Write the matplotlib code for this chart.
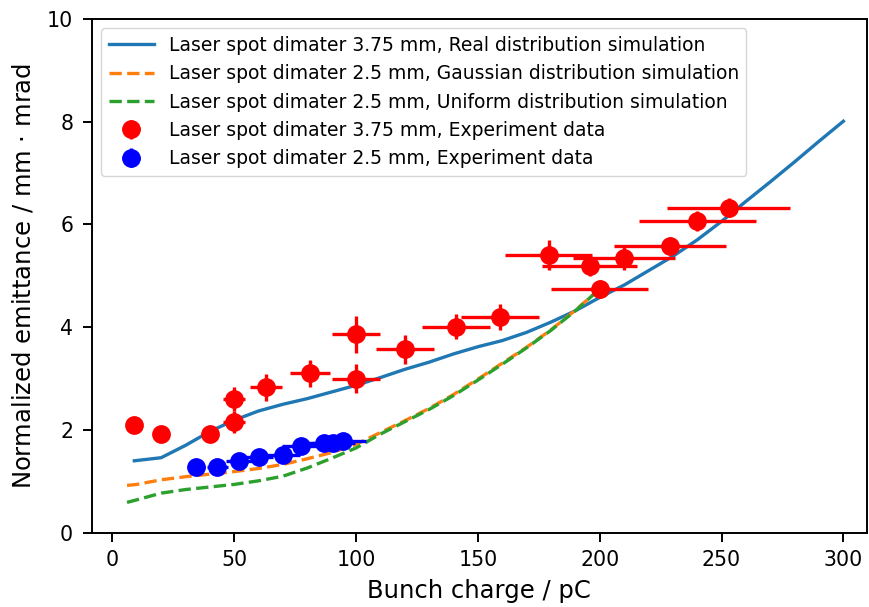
import matplotlib
matplotlib.use('Agg')
import matplotlib.pyplot as plt

# simulation curves
real_x = [9, 20, 30, 40, 50, 60, 70, 80, 90, 100, 110, 120, 130, 140, 150, 160, 170, 180, 190, 200,
          210, 220, 230, 240, 250, 260, 270, 280, 290, 300]
real_y = [1.40, 1.46, 1.70, 1.97, 2.19, 2.37, 2.50, 2.61, 2.74, 2.87, 3.02, 3.18, 3.32, 3.48, 3.62,
          3.74, 3.90, 4.10, 4.32, 4.58, 4.82, 5.10, 5.38, 5.70, 6.06, 6.45, 6.83, 7.22, 7.62, 8.01]

sim_x = [6, 10, 20, 30, 40, 50, 60, 70, 80, 90, 100, 110, 120, 130, 140, 150, 160, 170, 180, 190, 198]
gauss_y = [0.92, 0.94, 1.03, 1.09, 1.14, 1.19, 1.25, 1.33, 1.44, 1.56, 1.72, 1.95, 2.18, 2.42, 2.69,
           2.99, 3.30, 3.61, 3.95, 4.33, 4.66]
unif_y = [0.59, 0.64, 0.77, 0.84, 0.89, 0.94, 1.01, 1.10, 1.26, 1.45, 1.65, 1.92, 2.16, 2.40, 2.67,
          2.97, 3.28, 3.60, 3.94, 4.32, 4.66]

# experiment, 3.75 mm
red_x = [9, 20, 40, 50, 50, 63, 81, 100, 100, 120, 141, 159, 179, 196, 200, 210, 229, 240, 253]
red_y = [2.10, 1.93, 1.93, 2.16, 2.60, 2.83, 3.10, 3.86, 3.00, 3.57, 4.01, 4.20, 5.41, 5.19, 4.74,
         5.34, 5.58, 6.07, 6.33]
red_xerr = [0, 0, 0, 4.5, 4.5, 6.5, 8.2, 9.9, 9.9, 11.8, 14, 16, 17.8, 19.5, 19.8, 21, 23, 24, 25.3]
red_yerr = [0, 0, 0, 0.21, 0.24, 0.26, 0.27, 0.36, 0.28, 0.28, 0.24, 0.25, 0.29, 0.19, 0.18, 0.23,
            0.17, 0.19, 0.19]

# experiment, 2.5 mm
blue_x = [34.5, 43, 52, 60, 70, 77.5, 87, 90.5, 94.7]
blue_y = [1.27, 1.27, 1.40, 1.48, 1.51, 1.68, 1.75, 1.75, 1.79]
blue_xerr = [3.4, 4.3, 5.2, 6.0, 7.0, 7.8, 8.7, 9.1, 9.5]
blue_yerr = [0.05, 0.05, 0.05, 0.05, 0.05, 0.05, 0.05, 0.05, 0.05]

plt.rcParams['font.size'] = 17.5
plt.rcParams['axes.linewidth'] = 1.4
plt.rcParams['xtick.labelsize'] = 14.8
plt.rcParams['ytick.labelsize'] = 14.8
plt.rcParams['xtick.major.size'] = 6.3
plt.rcParams['ytick.major.size'] = 6.3
plt.rcParams['xtick.major.width'] = 1.4
plt.rcParams['ytick.major.width'] = 1.4
plt.rcParams['xtick.major.pad'] = 6.5
plt.rcParams['ytick.major.pad'] = 7

fig = plt.figure(figsize=(8.7, 6.07), dpi=100)
ax = fig.add_axes([0.1054, 0.1224, 0.8906, 0.8463])

ax.plot(real_x, real_y, color='#1f77b4', lw=2.4,
        label='Laser spot dimater 3.75 mm, Real distribution simulation')
ax.plot(sim_x, gauss_y, '--', color='#ff7f0e', lw=2.4,
        label='Laser spot dimater 2.5 mm, Gaussian distribution simulation')
ax.plot(sim_x, unif_y, '--', color='#2ca02c', lw=2.4,
        label='Laser spot dimater 2.5 mm, Uniform distribution simulation')
ax.errorbar(red_x, red_y, xerr=red_xerr, yerr=red_yerr, fmt='o', color='red', ms=12.5,
            elinewidth=2.4, label='Laser spot dimater 3.75 mm, Experiment data')
ax.errorbar(blue_x, blue_y, xerr=blue_xerr, yerr=blue_yerr, fmt='o', color='blue', ms=12.5,
            elinewidth=2.4, label='Laser spot dimater 2.5 mm, Experiment data')

ax.set_xlim(-8.5, 309.5)
ax.set_ylim(0, 10)
ax.set_xlabel('Bunch charge / pC', labelpad=6)
ax.set_ylabel('Normalized emittance / mm $\\cdot$ mrad', labelpad=8)
ax.legend(loc='upper left', fontsize=13.5, numpoints=1, handlelength=2.4)

fig.savefig('out.png', dpi=100)
